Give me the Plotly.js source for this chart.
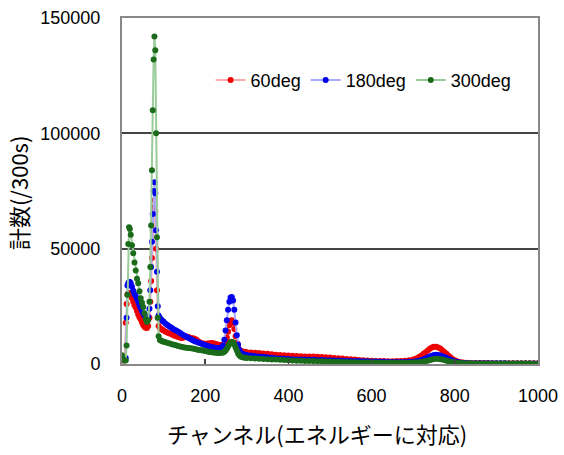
<!DOCTYPE html>
<html>
<head>
<meta charset="utf-8">
<script src="https://cdn.plot.ly/plotly-3.0.1.min.js"></script>
<style>html,body{margin:0;padding:0;background:#fff;}#chart{width:564px;height:455px;}</style>
</head>
<body>
<div id="chart"></div>
<script>
const channels = [0,3,6,9,11,13,15,17,19,21,24,27,30,33,36,39,42,45,48,51,54,57,60,
63,66,68,70,72,74,76,78,80,82,84,86,88,91,94,97,100,
105,110,115,120,125,130,135,140,145,150,155,160,165,170,175,180,185,190,195,200,205,210,215,220,225,230,235,240,
243,246,249,252,255,258,261,264,267,270,273,276,279,282,285,288,292,296,300,
310,320,330,340,350,360,370,380,390,400,410,420,430,440,450,460,470,480,490,500,
510,520,530,540,550,560,570,580,590,600,610,620,630,640,650,660,670,680,690,700,
705,710,715,720,725,730,735,740,745,750,755,760,765,770,775,780,785,790,795,800,805,810,815,820,
830,840,850,860,870,880,890,900,910,920,930,940,950,960,970,980,990,1000];

const deg60 = [2000,1500,2000,17900,26000,30000,30700,30800,30500,29800,28500,27000,25500,24500,23000,21500,20300,19300,18000,16900,16200,15700,15600,
16500,20000,27000,36000,46000,58000,68000,71000,66000,50000,32000,20000,16500,15600,15200,14800,14500,
14000,13600,13200,12800,12400,12000,11700,11400,11300,11600,11900,11700,11300,11200,11000,10400,9600,9100,8900,8800,8900,9000,9100,9000,8700,8400,8200,8100,
8300,8800,9800,11500,14000,16800,18700,19000,17800,15200,12000,9200,7300,6200,5700,5500,5300,5200,5100,
5000,4900,4800,4600,4400,4200,4000,3900,3800,3700,3600,3500,3400,3300,3250,3200,3100,3000,2900,2800,
2650,2500,2350,2200,2050,1900,1750,1650,1550,1450,1350,1300,1250,1200,1200,1250,1300,1400,1600,1900,
2200,2600,3100,3700,4400,5100,5900,6600,7200,7500,7500,7200,6700,6000,5200,4400,3600,2800,2100,1600,1200,900,700,600,
500,450,420,400,390,380,370,360,350,340,330,320,310,300,300,290,280,280];

const deg180 = [2500,2200,2400,2600,20000,34000,35000,35500,35600,35000,33500,31800,30200,29500,28300,27000,25500,24200,23000,22000,21000,20500,20000,
20500,24000,32000,42000,53000,65000,75000,78800,74000,58000,40000,25000,21000,19900,19300,18800,18300,
17500,16800,16200,15600,15000,14500,14000,13400,12800,12300,11800,11300,10800,10300,9900,9500,9200,8900,8500,8200,7900,7600,7400,7200,7000,6900,6800,7000,
8000,10500,14500,19000,23500,27000,28800,29100,27500,23500,18000,12500,8500,6200,5000,4500,4200,4000,3900,
3700,3500,3300,3100,2900,2700,2500,2400,2300,2200,2100,2000,1950,1900,1850,1800,1750,1700,1650,1600,
1550,1500,1450,1400,1350,1300,1250,1200,1150,1100,1050,1000,950,920,900,900,900,920,950,1000,
1100,1250,1450,1700,2000,2400,2800,3200,3600,3900,4000,3900,3700,3400,3000,2600,2200,1800,1400,1100,850,650,500,450,
400,370,350,340,330,320,310,300,290,280,270,260,250,240,240,230,220,220];

const deg300 = [3800,2000,1500,1500,8000,30000,52000,59300,58500,56000,51500,48000,44000,40500,37000,35000,31500,28500,26500,24700,22000,19500,18200,
19000,27000,42000,60000,84000,110000,132000,142000,136000,100000,55000,20000,12000,10400,10100,9900,9700,
9400,9100,8900,8600,8300,8100,7800,7600,7400,7200,7000,6900,6800,6700,6500,6300,6100,6000,5800,5600,5400,5200,5100,5000,4900,4800,4800,4900,
5000,5300,5800,6600,7600,8600,9400,9700,9400,8500,7200,5800,4600,3800,3300,3000,2800,2700,2600,
2500,2400,2300,2200,2100,2000,1900,1800,1700,1600,1500,1450,1400,1350,1300,1250,1200,1150,1100,1050,
1000,950,900,850,800,750,700,680,650,630,600,580,560,540,530,520,520,530,560,600,
650,700,800,900,1050,1250,1450,1700,1950,2200,2300,2250,2100,1900,1700,1450,1200,950,750,600,480,400,350,320,
300,280,270,260,250,240,230,220,210,200,200,190,180,180,170,170,160,160];

const seriesNames = ['60deg','180deg','300deg'];
const markerColors = ['#ee0000','#0000ee','#1a6b1a'];
const lineColors = ['#ffaaaa','#aaaaff','#99cc99'];
const seriesData = [deg60, deg180, deg300];

const traces = seriesData.map((vals, i) => ({
  x: channels,
  y: vals,
  name: seriesNames[i],
  type: 'scatter',
  mode: 'lines+markers',
  line: {color: lineColors[i], width: 2},
  marker: {color: markerColors[i], size: 6}
}));

const tickFont = {family: 'Liberation Sans, Arial, sans-serif', size: 18, color: '#000'};
const titleFont = {family: 'Noto Sans CJK JP, sans-serif', size: 22, color: '#000'};

const layout = {
  width: 564, height: 455,
  margin: {l: 122, r: 26, t: 18, b: 91},
  paper_bgcolor: '#fff', plot_bgcolor: '#fff',
  showlegend: true,
  legend: {
    orientation: 'h', x: 0.213, y: 0.82, xanchor: 'left', yanchor: 'middle',
    font: {family: 'Liberation Sans, Arial, sans-serif', size: 18, color: '#000'},
    bgcolor: 'rgba(0,0,0,0)', itemwidth: 30, tracegroupgap: 0
  },
  xaxis: {
    range: [0, 1000], dtick: 200, tick0: 0,
    showgrid: false, zeroline: false,
    showline: true, mirror: true, linecolor: '#888', linewidth: 2,
    ticks: 'inside', ticklen: 5, tickcolor: '#444', tickwidth: 1.5,
    tickfont: tickFont, ticklabelstandoff: 14
  },
  yaxis: {
    range: [0, 150000], dtick: 50000, tick0: 0,
    showgrid: true, gridcolor: '#444', gridwidth: 2,
    zeroline: false,
    showline: true, mirror: true, linecolor: '#888', linewidth: 2,
    ticks: '', tickfont: tickFont, ticklabelstandoff: 16,
    tickformat: 'd'
  },
  annotations: [
    {text: 'チャンネル(エネルギーに対応)', xref: 'paper', yref: 'paper',
     x: 0.469, y: -0.2, xanchor: 'center', yanchor: 'middle', showarrow: false, font: titleFont},
    {text: '計数(/300s)', xref: 'paper', yref: 'paper',
     x: -0.25, y: 0.494, xanchor: 'center', yanchor: 'middle', textangle: -90, showarrow: false, font: titleFont}
  ]
};

Plotly.newPlot('chart', traces, layout, {displayModeBar: false, staticPlot: true});
</script>
</body>
</html>
